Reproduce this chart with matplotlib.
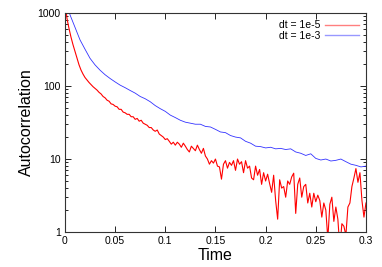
import numpy as np
import matplotlib
matplotlib.use('Agg')
import matplotlib.pyplot as plt
from matplotlib.ticker import FixedLocator, LogLocator, FuncFormatter, NullFormatter

plt.rcParams['font.family'] = ['Liberation Sans', 'DejaVu Sans']

# dt = 1e-5 (red), sampled every 0.002
t_red = np.linspace(0.0, 0.3, 151)
ac_red = [1500, 850, 620, 470, 370, 300, 242, 196, 166, 146,
          131, 121, 112, 105, 98, 93, 88, 82, 78, 72,
          69, 64, 62, 57, 56, 53, 52, 48, 48, 44,
          43, 41, 41, 38, 38, 35, 36, 33, 34, 31,
          30, 29, 27, 27, 25, 24, 25, 22, 21, 20,
          18.5, 19, 17.5, 16, 17, 15.5, 17, 16, 14.5, 16.5,
          15, 13.5, 12.5, 15, 14, 13, 15.5, 13.5, 12, 14,
          11, 10, 8.5, 9.5, 8.8, 10, 8, 7.8, 5.3, 8.5,
          9.5, 7.5, 9, 8.2, 9.5, 7, 10, 8.5, 9.2, 6.5,
          9.5, 7.5, 8, 5.5, 5.2, 8, 6, 7.2, 4.5, 6.5,
          5, 6.2, 4.6, 3.5, 6, 2.7, 1.5, 5.2, 4, 4.2,
          3, 5, 4.5, 5.7, 6.4, 1.8, 4.5, 5.5, 3, 4.2,
          4.5, 2.5, 3.4, 2.2, 3.4, 2.6, 3.2, 2.7, 1.6, 2.5,
          2.0, 0.8, 2.4, 3.0, 1.4, 2.2, 1.5, 0.6, 1.3, 1.2,
          0.9, 2.2, 2.5, 4.2, 5.5, 7.4, 4.8, 6.5, 2.7, 1.6,
          2.5]

# dt = 1e-3 (blue), sampled every 0.005
t_blue = np.linspace(0.0, 0.3, 61)
ac_blue = [1800, 950, 640, 430, 320, 240, 195, 165, 143, 127,
           114, 103, 95, 87, 80, 72, 67, 61, 54, 49,
           45, 40, 37, 34, 32, 31, 30, 30, 28, 27.5,
           25.5, 23.5, 23, 21, 20, 19.5, 17.5, 16.5, 15, 14.8,
           14.2, 14.5, 13.8, 14, 13.5, 13.8, 12.5, 12, 11.2, 11.8,
           10.2, 9.7, 10, 9.4, 9.6, 10, 9.2, 8.5, 8.2, 7.8,
           8]

fig = plt.figure(figsize=(3.82, 2.67), dpi=100)
ax = fig.add_axes([0.170, 0.131, 0.788, 0.820])

ax.plot(t_red, ac_red, color='#ff0000', lw=0.8, label='dt = 1e-5')
ax.plot(t_blue, ac_blue, color='#3333ff', lw=0.6, label='dt = 1e-3')

ax.set_yscale('log')
ax.set_xlim(0, 0.3)
ax.set_ylim(1, 1000)

ax.xaxis.set_major_locator(FixedLocator([0, 0.05, 0.1, 0.15, 0.2, 0.25, 0.3]))
ax.xaxis.set_major_formatter(FuncFormatter(lambda v, p: '%g' % v))
ax.yaxis.set_major_locator(FixedLocator([1, 10, 100, 1000]))
ax.yaxis.set_major_formatter(FuncFormatter(lambda v, p: '%g' % v))
ax.yaxis.set_minor_locator(LogLocator(base=10, subs=np.arange(2, 10)))
ax.yaxis.set_minor_formatter(NullFormatter())

ax.tick_params(which='both', direction='in', top=True, right=True,
               labelsize=7.5, width=0.6, pad=3)
ax.tick_params(which='major', length=4)
ax.tick_params(which='minor', length=2)
for s in ax.spines.values():
    s.set_linewidth(0.8)
    s.set_color('#333333')

ax.set_xlabel('Time', fontsize=11.5, labelpad=1)
ax.set_ylabel('Autocorrelation', fontsize=11.5, labelpad=3)

leg = ax.legend(loc='upper right', frameon=False, markerfirst=False,
                fontsize=7.5, handlelength=3.2, handletextpad=0.5,
                labelspacing=0.05, borderaxespad=0.3)
for h in leg.get_lines():
    h.set_linewidth(1.0)
    h.set_alpha(0.5)

plt.savefig('out.png', dpi=100)
